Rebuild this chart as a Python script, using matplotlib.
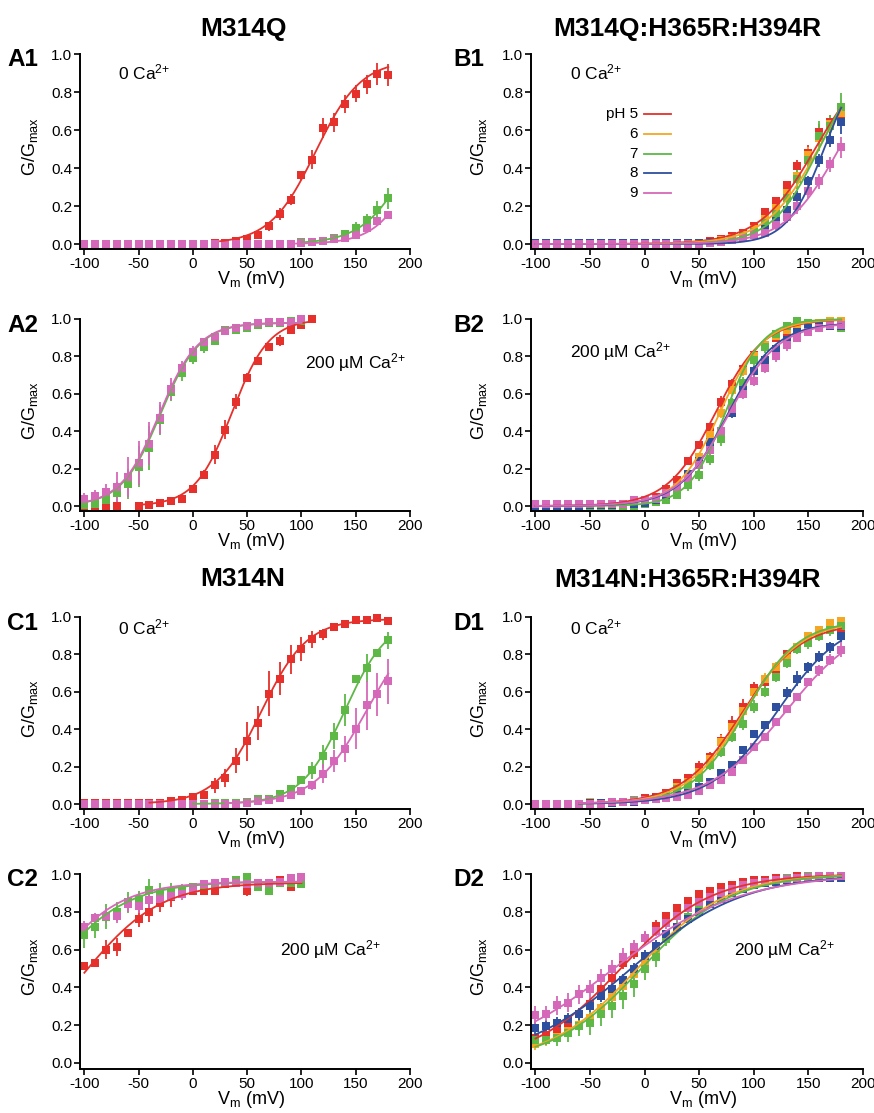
import numpy as np
import matplotlib
matplotlib.use("Agg")
import matplotlib.pyplot as plt

plt.rcParams['font.family'] = ['Liberation Sans', 'DejaVu Sans']
plt.rcParams['mathtext.fontset'] = 'custom'
plt.rcParams['mathtext.rm'] = 'Liberation Sans'
plt.rcParams['mathtext.it'] = 'Liberation Sans:italic'
plt.rcParams['mathtext.bf'] = 'Liberation Sans:bold'
plt.rcParams['axes.unicode_minus'] = False

# ---------------- data ----------------
V = [-100, -90, -80, -70, -60, -50, -40, -30, -20, -10, 0, 10, 20, 30, 40,
     50, 60, 70, 80, 90, 100, 110, 120, 130, 140, 150, 160, 170, 180]
colors = {'5': '#E5302B', '6': '#F5A623', '7': '#5DB846', '8': '#2D4F9E', '9': '#D568B8'}
ph_labels = ['pH 5', '6', '7', '8', '9']
xticks = [-100, -50, 0, 50, 100, 150, 200]
yticks = [0.0, 0.2, 0.4, 0.6, 0.8, 1.0]

# A1  M314Q 0 Ca
A1_red = [0]*12 + [0.003, 0.006, 0.014, 0.026, 0.049, 0.093, 0.158, 0.233, 0.361, 0.444, 0.61, 0.64, 0.737, 0.79, 0.842, 0.895, 0.89]
A1_red_err = [0.005]*12 + [0.005, 0.008, 0.01, 0.015, 0.025, 0.025, 0.03, 0.03, 0.025, 0.05, 0.053, 0.05, 0.045, 0.045, 0.05, 0.06, 0.06]
A1_green = [0]*20 + [0.01, 0.012, 0.018, 0.03, 0.053, 0.084, 0.125, 0.18, 0.24]
A1_green_err = [0.005]*20 + [0.005, 0.005, 0.008, 0.01, 0.012, 0.03, 0.035, 0.045, 0.055]
A1_pink = [0]*20 + [0.005, 0.012, 0.017, 0.024, 0.033, 0.05, 0.082, 0.12, 0.155]
A1_pink_err = [0.005]*20 + [0.005, 0.005, 0.006, 0.008, 0.01, 0.012, 0.015, 0.015, 0.015]

# A2  M314Q 200 uM Ca
A2_red = [0, 0, 0, 0, None, 0, 0.005, 0.014, 0.027, 0.038, 0.09, 0.167, 0.274, 0.409, 0.557,
          0.686, 0.776, 0.848, 0.884, 0.943, 0.97, 1.0] + [None]*7
A2_red_err = [0.005]*10 + [0.02, 0.025, 0.05, 0.05, 0.04, 0.025, 0.02, 0.015, 0.03, 0.015, 0.01, 0.01] + [0]*7
A2_green = [0.005, 0.01, 0.03, 0.07, 0.12, 0.21, 0.31, 0.46, 0.61, 0.71, 0.79, 0.85, 0.88, 0.94, 0.94,
            0.95, 0.97, 0.98, 0.98, 0.99, 0.99] + [None]*8
A2_green_err = [0.01, 0.02, 0.04, 0.06, 0.08, 0.11, 0.12, 0.08, 0.05, 0.04, 0.03, 0.03, 0.02, 0.01, 0.01,
                0.015, 0.01, 0.01, 0.01, 0.01, 0.01] + [0]*8
A2_pink = [0.04, 0.056, 0.073, 0.104, 0.154, 0.23, 0.333, 0.47, 0.627, 0.74, 0.824, 0.875, 0.905, 0.937, 0.95,
           0.96, 0.977, 0.982, 0.985, 0.986, 1.0] + [None]*8
A2_pink_err = [0.03, 0.03, 0.045, 0.08, 0.107, 0.12, 0.115, 0.085, 0.058, 0.035, 0.03, 0.02, 0.015, 0.01, 0.01,
               0.01, 0.01, 0.01, 0.01, 0.01, 0.005] + [0]*8

# C1  M314N 0 Ca
C1_red = [0.005]*7 + [0.008, 0.014, 0.02, 0.037, 0.05, 0.1, 0.139, 0.232, 0.336, 0.434, 0.59, 0.671, 0.773,
                      0.83, 0.88, 0.907, 0.946, 0.96, 0.984, 0.984, 0.996, 0.98]
C1_red_err = [0.005]*8 + [0.01, 0.01, 0.02, 0.02, 0.04, 0.05, 0.067, 0.105, 0.09, 0.12, 0.088, 0.076,
                          0.065, 0.045, 0.03, 0.01, 0.01, 0.01, 0.01, 0.01, 0.02]
C1_green = [0]*10 + [0.0, 0.002, 0.004, 0.005, 0.005, 0.01, 0.027, 0.025, 0.054, 0.08, 0.13, 0.18, 0.255,
                     0.362, 0.502, 0.67, 0.729, 0.805, 0.875]
C1_green_err = [0.005]*15 + [0.005, 0.01, 0.01, 0.01, 0.015, 0.015, 0.045, 0.06, 0.07, 0.085, 0.01, 0.075, 0.015, 0.047]
C1_pink = [0]*15 + [0.004, 0.014, 0.02, 0.03, 0.05, 0.068, 0.1, 0.163, 0.229, 0.295, 0.402, 0.527, 0.586, 0.657]
C1_pink_err = [0.005]*15 + [0.005, 0.008, 0.01, 0.012, 0.015, 0.02, 0.025, 0.05, 0.06, 0.07, 0.11, 0.13, 0.116, 0.12]

# C2  M314N 200 uM Ca
C2_red = [0.512, 0.53, 0.6, 0.614, 0.688, 0.763, 0.798, 0.845, 0.88, 0.895, 0.912, 0.91, 0.912, 0.945, 0.95,
          0.912, 0.945, 0.95, 0.97, 0.93, 0.96] + [None]*8
C2_red_err = [0.015, 0.015, 0.05, 0.05, 0.02, 0.045, 0.05, 0.045, 0.055, 0.02, 0.015, 0.02, 0.015, 0.02, 0.015,
              0.03, 0.02, 0.02, 0.02, 0.02, 0.02] + [0]*8
C2_green = [0.675, 0.72, 0.775, 0.8, 0.85, 0.87, 0.915, 0.9, 0.91, 0.915, 0.93, 0.94, 0.945, 0.955, 0.97,
            0.985, 0.93, 0.912, 0.95, 0.95, 0.947] + [None]*8
C2_green_err = [0.065, 0.06, 0.065, 0.05, 0.055, 0.04, 0.06, 0.05, 0.04, 0.03, 0.02, 0.02, 0.03, 0.02, 0.02,
                0.02, 0.02, 0.02, 0.02, 0.02, 0.02] + [0]*8
C2_pink = [0.72, 0.765, 0.78, 0.78, 0.84, 0.833, 0.86, 0.87, 0.885, 0.895, 0.92, 0.947, 0.95, 0.956, 0.955,
           0.945, 0.95, 0.955, 0.96, 0.98, 0.982] + [None]*8
C2_pink_err = [0.03, 0.03, 0.04, 0.04, 0.04, 0.04, 0.04, 0.04, 0.03, 0.03, 0.02, 0.02, 0.02, 0.02, 0.02,
               0.02, 0.02, 0.02, 0.02, 0.02, 0.02] + [0]*8

# B1  M314Q:H365R:H394R 0 Ca
B1_red = [0.005]*16 + [0.015, 0.025, 0.04, 0.06, 0.095, 0.17, 0.225, 0.31, 0.41, 0.48, 0.59, 0.64, 0.68]
B1_red_err = [0.005]*16 + [0.005, 0.005, 0.008, 0.01, 0.01, 0.015, 0.02, 0.02, 0.03, 0.04, 0.04, 0.04, 0.04]
B1_orange = [0]*16 + [0.01, 0.02, 0.03, 0.05, 0.08, 0.13, 0.19, 0.27, 0.36, 0.47, 0.56, 0.63, 0.69]
B1_orange_err = [0.005]*16 + [0.005, 0.005, 0.008, 0.01, 0.01, 0.015, 0.02, 0.03, 0.04, 0.04, 0.04, 0.04, 0.04]
B1_green = [0]*16 + [0.01, 0.015, 0.025, 0.04, 0.065, 0.11, 0.16, 0.24, 0.34, 0.44, 0.57, 0.62, 0.72]
B1_green_err = [0.005]*16 + [0.005, 0.005, 0.008, 0.01, 0.01, 0.015, 0.03, 0.04, 0.05, 0.05, 0.08, 0.06, 0.076]
B1_blue = [0.005]*16 + [0.01, 0.015, 0.02, 0.03, 0.05, 0.08, 0.12, 0.18, 0.25, 0.33, 0.44, 0.55, 0.64]
B1_blue_err = [0.008]*16 + [0.005, 0.005, 0.008, 0.01, 0.01, 0.015, 0.02, 0.02, 0.03, 0.03, 0.035, 0.04, 0.06]
B1_pink = [0]*16 + [0.005, 0.01, 0.02, 0.03, 0.045, 0.06, 0.1, 0.14, 0.2, 0.28, 0.33, 0.42, 0.51]
B1_pink_err = [0.005]*16 + [0.005, 0.005, 0.008, 0.01, 0.015, 0.02, 0.025, 0.03, 0.04, 0.04, 0.04, 0.04, 0.055]

# B2  M314Q:H365R:H394R 200 uM Ca
B2_red = [0]*10 + [0.03, 0.05, 0.09, 0.14, 0.24, 0.325, 0.42, 0.556, 0.65, 0.73, 0.81, 0.86, 0.9, 0.93, 0.96, 0.97, 0.98, 0.99, 0.99]
B2_red_err = [0.005]*10 + [0.01, 0.01, 0.015, 0.02, 0.02, 0.02, 0.025, 0.03, 0.03, 0.025, 0.02, 0.02, 0.015, 0.015, 0.01, 0.01, 0.01, 0.01, 0.01]
B2_orange = [0]*10 + [0.02, 0.03, 0.06, 0.1, 0.17, 0.26, 0.38, 0.5, 0.62, 0.72, 0.8, 0.86, 0.91, 0.94, 0.96, 0.98, 0.98, 0.99, 0.99]
B2_orange_err = [0.005]*10 + [0.01, 0.01, 0.015, 0.02, 0.02, 0.02, 0.025, 0.03, 0.03, 0.025, 0.02, 0.02, 0.015, 0.015, 0.01, 0.01, 0.01, 0.01, 0.01]
B2_green = [0]*10 + [0.01, 0.02, 0.03, 0.06, 0.11, 0.165, 0.25, 0.36, 0.55, 0.66, 0.78, 0.85, 0.92, 0.96, 0.99, 0.98, 0.97, 0.97, 0.95]
B2_green_err = [0.005]*10 + [0.01, 0.01, 0.015, 0.02, 0.03, 0.03, 0.03, 0.04, 0.03, 0.03, 0.03, 0.03, 0.02, 0.02, 0.01, 0.01, 0.01, 0.01, 0.01]
B2_blue = [0]*5 + [0.005, 0.005, 0.005, 0.01, 0.01, 0.015, 0.03, 0.06, 0.1, 0.17, 0.24, 0.34, 0.40, 0.5, 0.62,
                   0.72, 0.78, 0.84, 0.89, 0.93, 0.95, 0.96, 0.96, 0.96]
B2_blue_err = [0.008]*15 + [0.02, 0.02, 0.03, 0.03, 0.03, 0.03, 0.03, 0.02, 0.02, 0.02, 0.01, 0.01, 0.01, 0.01]
B2_pink = [0.01]*8 + [0.01, 0.03, 0.03, 0.04, 0.07, 0.1, 0.15, 0.22, 0.3, 0.4, 0.52, 0.6, 0.67, 0.74, 0.8, 0.86, 0.9, 0.93, 0.95, 0.97, 0.97]
B2_pink_err = [0.01]*10 + [0.01, 0.01, 0.015, 0.02, 0.02, 0.02, 0.03, 0.03, 0.03, 0.03, 0.03, 0.03, 0.03, 0.03, 0.02, 0.02, 0.01, 0.01, 0.01]

# D1  M314N:H365R:H394R 0 Ca
D1_red = [0]*5 + [0.01, 0.005, 0.01, 0.01, 0.02, 0.03, 0.04, 0.06, 0.11, 0.14, 0.2, 0.25, 0.335, 0.43, 0.52,
                  0.62, 0.65, 0.72, 0.8, 0.84, 0.88, 0.92, 0.95, 0.94]
D1_red_err = [0.005]*10 + [0.01, 0.01, 0.015, 0.02, 0.02, 0.03, 0.03, 0.04, 0.04, 0.04, 0.03, 0.04, 0.03, 0.02, 0.02, 0.02, 0.02, 0.02, 0.02]
D1_orange = [0]*5 + [0.01, 0.005, 0.005, 0.01, 0.015, 0.02, 0.03, 0.05, 0.09, 0.12, 0.17, 0.24, 0.33, 0.41, 0.5,
                     0.6, 0.67, 0.73, 0.78, 0.84, 0.9, 0.93, 0.97, 0.98]
D1_orange_err = [0.005]*10 + [0.01, 0.01, 0.015, 0.02, 0.02, 0.03, 0.03, 0.04, 0.04, 0.04, 0.03, 0.03, 0.03, 0.03, 0.02, 0.02, 0.02, 0.02, 0.02]
D1_green = [0]*5 + [0.005, 0.005, 0.005, 0.01, 0.02, 0.02, 0.03, 0.05, 0.08, 0.1, 0.14, 0.21, 0.28, 0.36, 0.43,
                    0.52, 0.6, 0.68, 0.755, 0.83, 0.86, 0.9, 0.93, 0.95]
D1_green_err = [0.005]*10 + [0.01, 0.01, 0.01, 0.015, 0.02, 0.03, 0.03, 0.03, 0.03, 0.035, 0.035, 0.03, 0.03, 0.03, 0.03, 0.03, 0.03, 0.03, 0.03]
D1_blue = [0]*5 + [0.005, 0.005, 0.005, 0.01, 0.01, 0.02, 0.03, 0.04, 0.05, 0.06, 0.09, 0.12, 0.164, 0.208, 0.29,
                   0.372, 0.42, 0.517, 0.596, 0.67, 0.73, 0.787, 0.838, 0.896]
D1_blue_err = [0.005]*15 + [0.01, 0.01, 0.01, 0.01, 0.015, 0.015, 0.02, 0.02, 0.03, 0.04, 0.03, 0.03, 0.03, 0.03]
D1_pink = [0]*7 + [0.01, 0.01, 0.015, 0.02, 0.025, 0.03, 0.04, 0.05, 0.07, 0.1, 0.13, 0.173, 0.235,
                   0.305, 0.36, 0.437, 0.508, 0.573, 0.65, 0.714, 0.772, 0.825]
D1_pink_err = [0.005]*15 + [0.01, 0.01, 0.01, 0.01, 0.01, 0.015, 0.015, 0.015, 0.015, 0.02, 0.02, 0.03, 0.03, 0.04]

# D2  M314N:H365R:H394R 200 uM Ca
D2_red = [0.13, 0.15, 0.18, 0.21, 0.26, 0.31, 0.39, 0.45, 0.53, 0.58, 0.664, 0.725, 0.78, 0.82, 0.855,
          0.895, 0.91, 0.93, 0.94, 0.96, 0.97, 0.97, 0.98, 0.98, 0.99, 0.99, 0.99, 0.99, 0.99]
D2_red_err = [0.02]*6 + [0.03]*6 + [0.02]*3 + [0.015]*2 + [0.01]*12
D2_orange = [0.1, 0.12, 0.14, 0.17, 0.2, 0.24, 0.29, 0.35, 0.41, 0.47, 0.54, 0.6, 0.66, 0.72, 0.77,
             0.81, 0.85, 0.88, 0.91, 0.93, 0.95, 0.96, 0.97, 0.98, 0.98, 0.99, 0.99, 0.99, 0.99]
D2_orange_err = [0.03]*12 + [0.02]*5 + [0.01]*12
D2_green = [0.12, 0.124, 0.13, 0.16, 0.195, 0.21, 0.257, 0.3, 0.355, 0.417, 0.497, 0.56, 0.657, 0.72, 0.77,
            0.82, 0.86, 0.89, 0.92, 0.94, 0.95, 0.96, 0.97, 0.98, 0.98, 0.99, 0.99, 0.99, 0.98]
D2_green_err = [0.03, 0.03, 0.04, 0.05, 0.05, 0.06, 0.06, 0.06, 0.07, 0.07, 0.06, 0.05, 0.04, 0.03, 0.03,
                0.02, 0.02, 0.02] + [0.01]*11
D2_blue = [0.186, 0.195, 0.213, 0.235, 0.26, 0.3, 0.355, 0.39, 0.44, 0.5, 0.568, 0.62, 0.68, 0.72, 0.76,
           0.8, 0.84, 0.87, 0.9, 0.92, 0.94, 0.95, 0.96, 0.97, 0.975, 0.98, 0.98, 0.98, 0.98]
D2_blue_err = [0.03]*12 + [0.02]*5 + [0.01]*12
D2_pink = [0.254, 0.26, 0.305, 0.32, 0.364, 0.39, 0.45, 0.497, 0.56, 0.613, 0.66, 0.7, 0.74, 0.78, 0.82,
           0.85, 0.88, 0.9, 0.92, 0.94, 0.95, 0.96, 0.97, 0.975, 0.98, 0.985, 0.99, 0.99, 0.99]
D2_pink_err = [0.05, 0.04, 0.05, 0.05, 0.05, 0.05, 0.05, 0.05, 0.05, 0.04, 0.04, 0.03, 0.03, 0.03, 0.02,
               0.02, 0.02, 0.02, 0.015] + [0.01]*10

# Boltzmann fit parameters: (pH, Gmax, V1/2, slope k, V start, V end)
A1_fits = [('5', 0.97, 113, 21, 25, 180), ('7', 1.0, 205, 22, 100, 180), ('9', 1.0, 212, 19, 95, 180)]
A2_fits = [('5', 1.0, 36, 17, -50, 110), ('7', 0.98, -30, 18, -100, 100), ('9', 0.98, -31, 18, -100, 100)]
C1_fits = [('5', 0.99, 63, 21, -40, 180), ('7', 1.0, 140, 20, 0, 180), ('9', 1.0, 160, 24, 30, 180)]
C2_fits = [('5', 0.955, -100, 35, -100, 100), ('7', 0.96, -133, 35, -100, 100), ('9', 0.96, -135, 33, -100, 100)]
B1_fits = [('5', 1.0, 156, 25.5, -100, 180), ('6', 1.0, 159, 24.3, -100, 180), ('7', 1.0, 159.6, 21.6, -100, 180),
           ('8', 1.0, 164.3, 16.9, -100, 180), ('9', 1.0, 178, 24.5, -100, 180)]
B2_fits = [('5', 1.0, 65, 22, -100, 180), ('6', 1.0, 69, 20, -100, 180), ('7', 1.0, 74, 17, -100, 180),
           ('8', 0.98, 76, 22, -100, 180), ('9', 0.98, 77, 23, -100, 180)]
D1_fits = [('5', 0.97, 89, 27, -60, 180), ('6', 0.98, 91, 26, -60, 180), ('7', 0.98, 92, 24.4, -60, 180),
           ('8', 1.0, 122, 30, -60, 180), ('9', 1.0, 130, 35, -60, 180)]
D2_fits = [('5', 1.0, -21.8, 41, -100, 180), ('6', 1.0, -6.5, 40.5, -100, 180), ('7', 1.0, -3, 41, -100, 180),
           ('8', 1.0, -12.3, 50.7, -100, 180), ('9', 1.0, -28, 57, -100, 180)]

panels = {
    'A1': dict(series=[('5', A1_red, A1_red_err), ('7', A1_green, A1_green_err), ('9', A1_pink, A1_pink_err)], fits=A1_fits),
    'A2': dict(series=[('5', A2_red, A2_red_err), ('7', A2_green, A2_green_err), ('9', A2_pink, A2_pink_err)], fits=A2_fits),
    'C1': dict(series=[('5', C1_red, C1_red_err), ('7', C1_green, C1_green_err), ('9', C1_pink, C1_pink_err)], fits=C1_fits),
    'C2': dict(series=[('5', C2_red, C2_red_err), ('7', C2_green, C2_green_err), ('9', C2_pink, C2_pink_err)], fits=C2_fits),
    'B1': dict(series=[('5', B1_red, B1_red_err), ('6', B1_orange, B1_orange_err), ('7', B1_green, B1_green_err),
                       ('8', B1_blue, B1_blue_err), ('9', B1_pink, B1_pink_err)], fits=B1_fits),
    'B2': dict(series=[('5', B2_red, B2_red_err), ('6', B2_orange, B2_orange_err), ('7', B2_green, B2_green_err),
                       ('8', B2_blue, B2_blue_err), ('9', B2_pink, B2_pink_err)], fits=B2_fits),
    'D1': dict(series=[('5', D1_red, D1_red_err), ('6', D1_orange, D1_orange_err), ('7', D1_green, D1_green_err),
                       ('8', D1_blue, D1_blue_err), ('9', D1_pink, D1_pink_err)], fits=D1_fits),
    'D2': dict(series=[('5', D2_red, D2_red_err), ('6', D2_orange, D2_orange_err), ('7', D2_green, D2_green_err),
                       ('8', D2_blue, D2_blue_err), ('9', D2_pink, D2_pink_err)], fits=D2_fits),
}

# ---------------- layout (pixels) ----------------
W, H = 874, 1113
fig = plt.figure(figsize=(W/100, H/100), dpi=100)

col_x = {'L': (80, 410), 'R': (531, 863)}
row_y = {1: (54, 244, 249), 2: (319, 506, 511), 3: (617, 804, 809), 4: (874, 1063, 1069)}
layout = {'A1': ('L', 1), 'A2': ('L', 2), 'C1': ('L', 3), 'C2': ('L', 4),
          'B1': ('R', 1), 'B2': ('R', 2), 'D1': ('R', 3), 'D2': ('R', 4)}

def fx(px):
    return px / W

def fy(py):
    return 1 - py / H

XMIN = -104

for name, (col, row) in layout.items():
    x0, x1 = col_x[col]
    ytop, yzero, yspine = row_y[row]
    ppu = yzero - ytop
    ymin = -(yspine - yzero) / ppu
    ax = fig.add_axes([fx(x0), fy(yspine), fx(x1 - x0), (yspine - ytop) / H])
    ax.set_xlim(XMIN, 200)
    ax.set_ylim(ymin, 1.0)
    for s in ['top', 'right']:
        ax.spines[s].set_visible(False)
    for s in ['left', 'bottom']:
        ax.spines[s].set_linewidth(1.4)
    ax.set_xticks(xticks)
    ax.set_yticks(yticks)
    ax.set_yticklabels(['%.1f' % t for t in yticks])
    ax.tick_params(direction='out', length=4, width=1.2, labelsize=11, pad=1.5)
    p = panels[name]
    for ph, vals, errs in p['series']:
        xs = [v for v, y in zip(V, vals) if y is not None]
        ys = [y for y in vals if y is not None]
        es = [e for e, y in zip(errs, vals) if y is not None]
        ax.errorbar(xs, ys, yerr=es, fmt='s', ms=5.8, mew=0, color=colors[ph], ecolor=colors[ph],
                    elinewidth=1.3, capsize=3.2, capthick=1.3, clip_on=False, zorder=2)
    for ph, gmax, vh, k, va, vb in p['fits']:
        vv = np.linspace(va, vb, 200)
        g = gmax / (1 + np.exp(-(vv - vh) / k))
        ax.plot(vv, g, color=colors[ph], lw=1.3, zorder=3, clip_on=False)
    # axis labels
    xc = (x0 + 4 + x1) / 2 + 4
    fig.text(fx(xc), fy(yspine + 31), r'V$_\mathrm{m}$ (mV)', ha='center', va='center', fontsize=13)
    ylx = 30 if col == 'L' else 479
    fig.text(fx(ylx), fy((ytop + yzero) / 2 - 2), r'G/G$_\mathrm{max}$', ha='center', va='center',
             rotation=90, fontsize=13)
    # panel label
    plx = 7 if col == 'L' else 453
    fig.text(fx(plx), fy(ytop + 6), name, ha='left', va='center', fontsize=17.5, fontweight='bold')
    if name == 'B1':
        for i, ph in enumerate(['5', '6', '7', '8', '9']):
            yy = 114 + i * 19.8
            fig.text(fx(638), fy(yy), ph_labels[i], ha='right', va='center', fontsize=11)
            fig.add_artist(plt.Line2D([fx(644), fx(671)], [fy(yy), fy(yy)], color=colors[ph], lw=1.3))

# titles
fig.text(fx(243), fy(29), 'M314Q', ha='center', va='center', fontsize=19, fontweight='bold')
fig.text(fx(687), fy(29), 'M314Q:H365R:H394R', ha='center', va='center', fontsize=19, fontweight='bold')
fig.text(fx(243), fy(579), 'M314N', ha='center', va='center', fontsize=19, fontweight='bold')
fig.text(fx(687), fy(580), 'M314N:H365R:H394R', ha='center', va='center', fontsize=19, fontweight='bold')

# condition labels
zero_ca = r'0 Ca$^{2{+}}$'
ca200 = r'200 µM Ca$^{2{+}}$'
for (xx, yy, t) in [(118, 72, zero_ca), (570, 72, zero_ca), (305, 363, ca200), (570, 352, ca200),
                    (118, 627, zero_ca), (570, 627, zero_ca), (280, 950, ca200), (734, 950, ca200)]:
    fig.text(fx(xx), fy(yy), t, ha='left', va='center', fontsize=12.5)

fig.savefig('out.png', dpi=100)
